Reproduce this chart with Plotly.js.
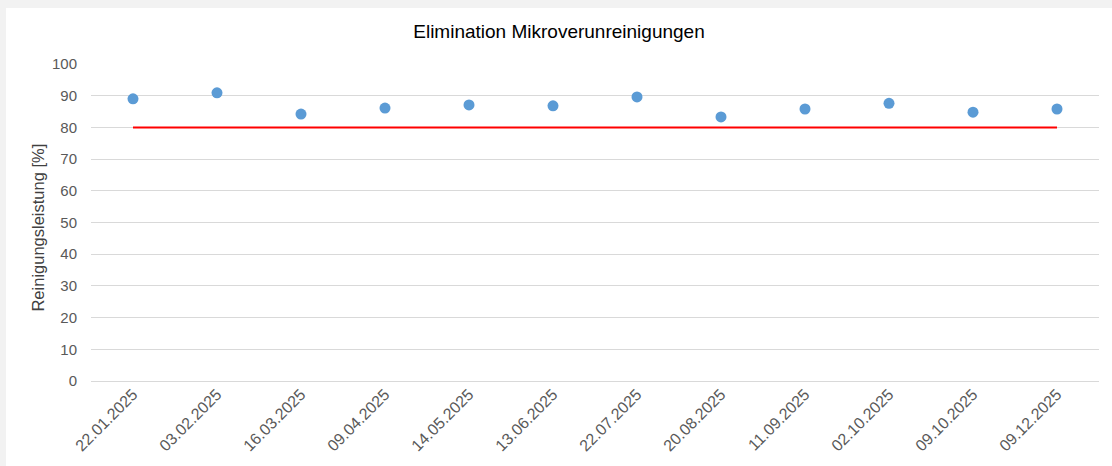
<!DOCTYPE html>
<html>
<head>
<meta charset="utf-8">
<script src="https://cdn.plot.ly/plotly-3.0.1.min.js"></script>
<style>
html,body{margin:0;padding:0;background:#f2f2f2;width:1112px;height:466px;overflow:hidden;}
#chart{position:absolute;left:6px;top:8px;width:1106px;height:458px;background:#fff;}
</style>
</head>
<body>
<div id="chart"></div>
<script>
const dates = ["22.01.2025","03.02.2025","16.03.2025","09.04.2025","14.05.2025","13.06.2025","22.07.2025","20.08.2025","11.09.2025","02.10.2025","09.10.2025","09.12.2025"];
const values = [89.0, 90.9, 84.2, 86.1, 87.1, 86.8, 89.6, 83.3, 85.8, 87.6, 84.8, 85.8];
const limit = [80,80,80,80,80,80,80,80,80,80,80,80];

const font = "Liberation Sans, Arial, sans-serif";
const traces = [
  {x: dates, y: limit, type: "scatter", mode: "lines", line: {color: "#ff0000", width: 2}, hoverinfo: "skip", showlegend: false},
  {x: dates, y: values, type: "scatter", mode: "markers", marker: {color: "#5b9bd5", size: 11}, showlegend: false}
];
const layout = {
  width: 1106, height: 458,
  paper_bgcolor: "#ffffff", plot_bgcolor: "#ffffff",
  margin: {l: 85, r: 13, t: 56, b: 85},
  font: {family: font, color: "#595959", size: 16},
  title: {text: "Elimination Mikroverunreinigungen", font: {family: font, size: 19, color: "#000000"}, x: 0.5, xanchor: "center", y: 0.948, yanchor: "middle", yref: "container"},
  xaxis: {type: "category", range: [-0.5, 11.5], tickangle: -45, showgrid: false, zeroline: false, showline: false, ticks: "", tickfont: {size: 16, color: "#595959"}},
  yaxis: {range: [0, 100], dtick: 10, showgrid: true, gridcolor: "#d9d9d9", gridwidth: 1, zeroline: true, zerolinecolor: "#d9d9d9", zerolinewidth: 1, showline: false, ticks: "", ticklabelstandoff: 13, tickfont: {size: 15, color: "#595959"}},
  annotations: [{text: "Reinigungsleistung [%]", xref: "paper", yref: "paper", x: -0.0526, y: 0.484, xanchor: "center", yanchor: "middle", textangle: -90, showarrow: false, font: {family: font, size: 16.5, color: "#404040"}}]
};
Plotly.newPlot("chart", traces, layout, {displayModeBar: false, staticPlot: true});
</script>
</body>
</html>
